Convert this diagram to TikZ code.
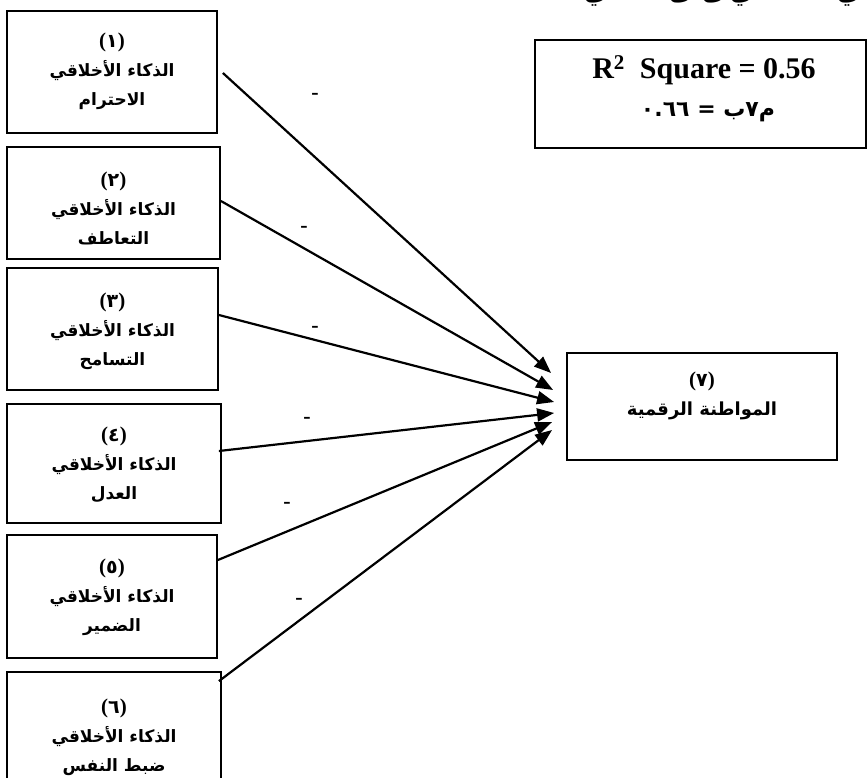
\documentclass[tikz,border=0pt]{standalone}
\usepackage{fontspec}
\setmainfont{Liberation Serif}
\newfontfamily\arb[Script=Arabic]{DejaVu Sans}
\TeXXeTstate=1
\usetikzlibrary{arrows.meta}
\newcommand{\AR}[1]{\beginR#1\endR}
\newcommand{\NUM}[1]{{\rmfamily\fontsize{21}{21}\selectfont(}{\fontsize{19}{19}\selectfont#1}{\rmfamily\fontsize{21}{21}\selectfont)}}
\begin{document}
\begin{tikzpicture}[x=1pt,y=-1pt,
  box/.style={draw, line width=1.8pt, inner sep=0pt},
  lab/.style={inner sep=0pt, align=center, font=\arb\bfseries\fontsize{17}{29}\selectfont},
  link/.style={line width=2.2pt, -{Triangle[length=17pt,width=13pt]}},
  tick/.style={inner sep=0pt, font=\rmfamily\bfseries\fontsize{22}{22}\selectfont},
  frag/.style={inner sep=0pt, anchor=base, font=\arb\bfseries\fontsize{24}{24}\selectfont},
]
\useasboundingbox (0,0) rectangle (868,778);
\begin{scope}
\clip (0,0) rectangle (868,778);
\node[frag] (f1) at (595,1) {ي};
\node[frag] (f2) at (680,1) {ى};
\node[frag] (f3) at (713,1) {ى};
\node[frag] (f4) at (741,1) {ي};
\node[frag] (f5) at (848,1) {ي};

% left boxes
\node[box, minimum width=210pt, minimum height=122pt] (b1) at (112,72) {};
\node[box, minimum width=213pt, minimum height=112pt] (b2) at (113.5,203) {};
\node[box, minimum width=211pt, minimum height=122pt] (b3) at (112.5,329) {};
\node[box, minimum width=214pt, minimum height=119pt] (b4) at (114,463.5) {};
\node[box, minimum width=210pt, minimum height=123pt] (b5) at (112,596.5) {};
\node[box, minimum width=214pt, minimum height=140pt] (b6) at (114,742) {};

\node[lab] (l1) at (112,71) {\NUM{١}\\\AR{الذكاء الأخلاقي}\\\AR{الاحترام}};
\node[lab] (l2) at (113.5,208) {\NUM{٢}\\\AR{الذكاء الأخلاقي}\\\AR{التعاطف}};
\node[lab] (l3) at (112.5,331) {\NUM{٣}\\\AR{الذكاء الأخلاقي}\\\AR{التسامح}};
\node[lab] (l4) at (114,465) {\NUM{٤}\\\AR{الذكاء الأخلاقي}\\\AR{العدل}};
\node[lab] (l5) at (112,597) {\NUM{٥}\\\AR{الذكاء الأخلاقي}\\\AR{الضمير}};
\node[lab] (l6) at (114,737) {\NUM{٦}\\\AR{الذكاء الأخلاقي}\\\AR{ضبط النفس}};

% target box
\node[box, minimum width=270pt, minimum height=107pt] (t) at (702,406.5) {};
\node[lab, font=\arb\bfseries\fontsize{18}{29}\selectfont] (tt) at (702,396) {\NUM{٧}\\\AR{المواطنة الرقمية}};

% R square box
\node[box, minimum width=331pt, minimum height=108pt] (r) at (700.5,94) {};
\node[inner sep=0pt, font=\rmfamily\bfseries\fontsize{30}{30}\selectfont] (r1) at (704,70) {R\textsuperscript{2}\ \ Square = 0.56};
\node[inner sep=0pt, font=\arb\bfseries\fontsize{22}{22}\selectfont] (r2) at (708,112) {\beginR م٧ب = \beginL٠.٦٦\endL\endR};

% connectors
\draw[link] ([xshift=5pt,yshift=-1pt]b1.east) -- ([xshift=-15pt,yshift=33.5pt]t.west);
\draw[link] ([yshift=2pt]b2.east) -- ([xshift=-13pt,yshift=16.5pt]t.west);
\draw[link] ([yshift=14pt]b3.east) -- ([xshift=-12pt,yshift=4.5pt]t.west);
\draw[link] ([xshift=-3pt,yshift=12.5pt]b4.east) -- ([xshift=-12pt,yshift=-6.5pt]t.west);
\draw[link] ([yshift=36.5pt]b5.east) -- ([xshift=-14pt,yshift=-15.5pt]t.west);
\draw[link] ([xshift=-3pt,yshift=-10pt]b6.north east) -- ([xshift=-14pt,yshift=-23.5pt]t.west);

% path labels
\node[tick] (d1) at (315,96) {-};
\node[tick] (d2) at (304,229) {-};
\node[tick] (d3) at (315,329) {-};
\node[tick] (d4) at (307,420) {-};
\node[tick] (d5) at (287,505) {-};
\node[tick] (d6) at (299,601) {-};
\end{scope}
\end{tikzpicture}
\end{document}
